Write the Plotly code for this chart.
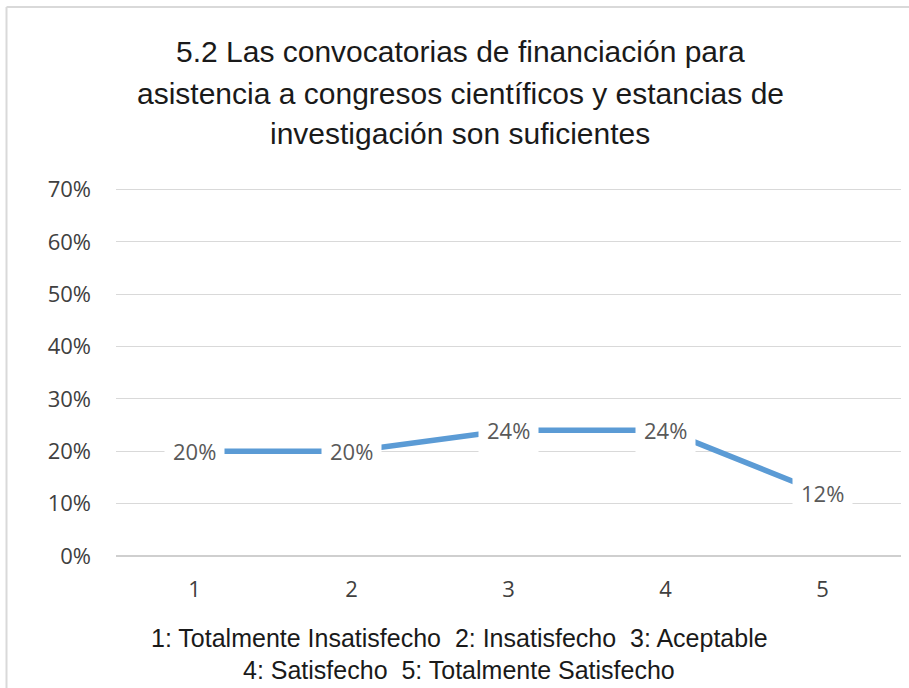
import plotly.graph_objects as go

# Survey item 5.2: share of responses per satisfaction level
categories = [1, 2, 3, 4, 5]
shares = [0.20, 0.20, 0.24, 0.24, 0.12]
y_ticks = [0.0, 0.1, 0.2, 0.3, 0.4, 0.5, 0.6, 0.7]
y_tick_labels = ["0%", "10%", "20%", "30%", "40%", "50%", "60%", "70%"]
title_lines = [
    "5.2 Las convocatorias de financiación para",
    "asistencia a congresos científicos y estancias de",
    "investigación son suficientes",
]
legend_lines = [
    "1: Totalmente Insatisfecho  2: Insatisfecho  3: Aceptable",
    "4: Satisfecho  5: Totalmente Satisfecho",
]

W, H = 909, 688
ML, MR, MT, MB = 116, 8, 188, 132
plot_h = H - MT - MB
plot_w = W - ML - MR

LABEL_FONT = "Open Sans"
TEXT_FONT = "Liberation Sans"


def py(pixel_y):
    """Convert a pixel row to a paper y coordinate."""
    return (H - MB - pixel_y) / plot_h


def px(pixel_x):
    return (pixel_x - ML) / plot_w


fig = go.Figure()
fig.add_trace(
    go.Scatter(
        x=categories,
        y=shares,
        mode="lines",
        line=dict(color="#5B9BD5", width=5.5),
        hoverinfo="skip",
        showlegend=False,
    )
)

annotations = []
# Value labels centred on each point, on a white box
for c, v in zip(categories, shares):
    annotations.append(
        dict(
            x=c, y=v, xref="x", yref="y",
            text=f"{v:.0%}",
            showarrow=False,
            font=dict(family=LABEL_FONT, size=22, color="#595959"),
            bgcolor="white",
            borderpad=8,
            xanchor="center", yanchor="middle",
        )
    )

title_rows = [52, 93, 134]
for text, row in zip(title_lines, title_rows):
    annotations.append(
        dict(
            x=px(460), y=py(row), xref="paper", yref="paper",
            text=text, showarrow=False,
            font=dict(family=TEXT_FONT, size=30, color="#1a1a1a"),
            xanchor="center", yanchor="middle",
        )
    )

legend_rows = [638, 670]
for text, row in zip(legend_lines, legend_rows):
    annotations.append(
        dict(
            x=px(459), y=py(row), xref="paper", yref="paper",
            text=text, showarrow=False,
            font=dict(family=TEXT_FONT, size=25, color="#1a1a1a"),
            xanchor="center", yanchor="middle",
        )
    )

# Outer chart frame (left and top edges visible)
frame = [
    dict(type="line", xref="paper", yref="paper",
         x0=px(6.5), x1=px(6.5), y0=py(H + 10), y1=py(7),
         line=dict(color="#D9D9D9", width=2)),
    dict(type="line", xref="paper", yref="paper",
         x0=px(6.5), x1=px(W + 10), y0=py(7), y1=py(7),
         line=dict(color="#D9D9D9", width=2)),
]

fig.update_layout(
    width=W, height=H,
    margin=dict(l=ML, r=MR, t=MT, b=MB),
    paper_bgcolor="white",
    plot_bgcolor="white",
    annotations=annotations,
    shapes=frame,
    showlegend=False,
)
fig.update_xaxes(
    range=[0.5, 5.5],
    tickvals=categories,
    ticktext=[str(c) for c in categories],
    showgrid=False,
    zeroline=False,
    showline=False,
    ticks="",
    ticklabelstandoff=18,
    tickfont=dict(family=LABEL_FONT, size=22, color="#404040"),
)
fig.update_yaxes(
    range=[0, 0.703],
    tickvals=y_ticks,
    ticktext=y_tick_labels,
    showgrid=True,
    gridcolor="#D9D9D9",
    gridwidth=1,
    zeroline=True,
    zerolinecolor="#CFCFCF",
    zerolinewidth=2,
    showline=False,
    ticks="",
    ticklabelstandoff=24,
    tickfont=dict(family=LABEL_FONT, size=22, color="#404040"),
)

fig.write_html("out.html")
